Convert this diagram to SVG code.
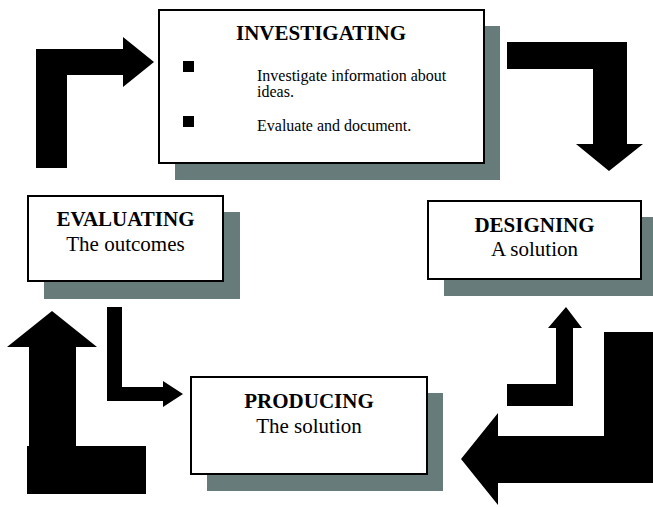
<svg xmlns="http://www.w3.org/2000/svg" width="653" height="507" viewBox="0 0 653 507">
<style>
.shadow{fill:#687b7b}
.box{fill:#fff;stroke:#000;stroke-width:2}
.arrow{fill:#000}
.h{font-family:"Liberation Serif","Times New Roman",serif;font-weight:bold;font-size:21px;text-anchor:middle;fill:#000}
.s{font-family:"Liberation Serif","Times New Roman",serif;font-size:21px;text-anchor:middle;fill:#000}
.b{font-family:"Liberation Serif","Times New Roman",serif;font-size:16px;fill:#000}
</style>
<rect width="653" height="507" fill="#fff"/>
<g id="connectors">
<path class="arrow" d="M36,168 V49 H123 V37 L154,62 L123,87 V75 H67 V168 Z"/>
<path class="arrow" d="M507,42 H627 V144 H643 L609,171 L576,144 H593 V69 H507 Z"/>
<path class="arrow" d="M507,384 H556 V328 H548 L566,307 L582,328 H573 V406 H507 Z"/>
<path class="arrow" d="M653,332 V483 H498 V505 L461,459 L498,413 V436 H604 V332 Z"/>
<path class="arrow" d="M107,307 H122 V387 H163 V381 L183,394 L163,407 V401 H107 Z"/>
<path class="arrow" d="M27,494 V446 H29 V347 H7 L52,311 L97,347 H76 V446 H146 V494 Z"/>
</g>
<g id="investigating">
<rect class="shadow" x="175" y="26" width="325" height="154"/>
<rect class="box" x="159" y="10" width="325" height="153"/>
<text class="h" x="321" y="40">INVESTIGATING</text>
<rect x="183" y="61" width="11" height="11" fill="#000"/>
<rect x="183" y="116" width="11" height="11" fill="#000"/>
<text class="b" x="257" y="81">Investigate information about</text>
<text class="b" x="257" y="97">ideas.</text>
<text class="b" x="257" y="131">Evaluate and document.</text>
</g>
<g id="evaluating">
<rect class="shadow" x="44" y="212" width="196" height="87"/>
<rect class="box" x="28" y="196" width="195" height="85"/>
<text class="h" x="125.5" y="226">EVALUATING</text>
<text class="s" x="125.5" y="251">The outcomes</text>
</g>
<g id="designing">
<rect class="shadow" x="444" y="217" width="213" height="79"/>
<rect class="box" x="428" y="201" width="213" height="78"/>
<text class="h" x="534.5" y="232">DESIGNING</text>
<text class="s" x="534.5" y="256">A solution</text>
</g>
<g id="producing">
<rect class="shadow" x="207" y="393" width="236" height="98"/>
<rect class="box" x="191" y="377" width="236" height="97"/>
<text class="h" x="309" y="408">PRODUCING</text>
<text class="s" x="309" y="433">The solution</text>
</g>
</svg>
